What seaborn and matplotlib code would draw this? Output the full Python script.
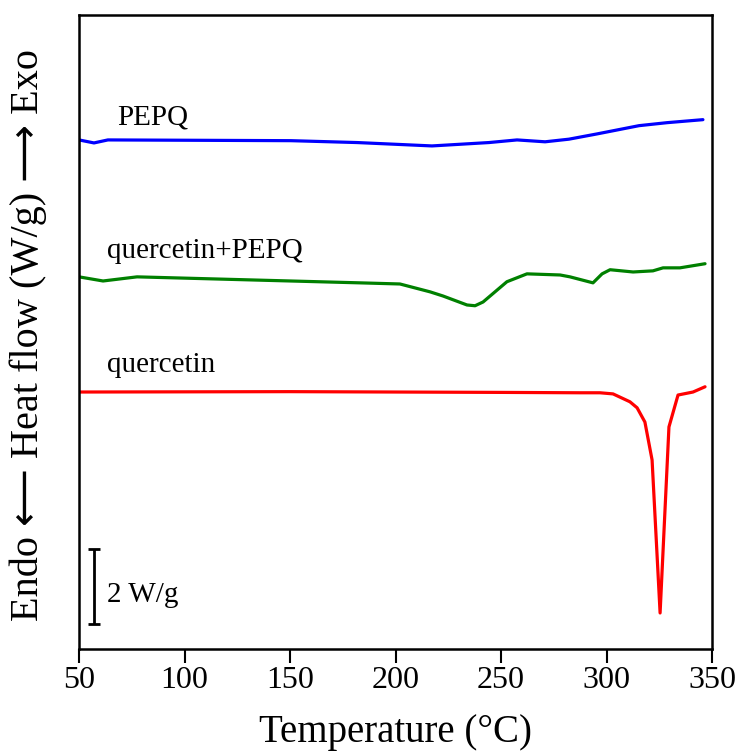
import numpy as np
import pandas as pd
import matplotlib
matplotlib.use("Agg")
import matplotlib.pyplot as plt
import seaborn as sns

# ---- data (Temperature in °C, heat flow in W/g incl. vertical stacking) ----
pepq_T = [50, 57.1, 63.7, 150.5, 181.8, 217.3, 244.3, 257.6, 270.9, 282.2, 295.5, 315.4, 328.7, 345.7]
pepq_H = [13.57, 13.49, 13.57, 13.55, 13.50, 13.41, 13.50, 13.57, 13.52, 13.59, 13.73, 13.95, 14.03, 14.11]

qp_T = [50, 61.4, 77.5, 183.2, 202.1, 216.4, 222.5, 233.9, 237.7, 241.5, 252.8, 262.3, 278.0,
        282.7, 293.6, 297.9, 301.7, 312.6, 322.0, 326.8, 334.8, 346.7]
qp_H = [9.92, 9.81, 9.92, 9.76, 9.73, 9.52, 9.41, 9.17, 9.15, 9.25, 9.79, 10.0, 9.97,
        9.92, 9.76, 10.0, 10.11, 10.05, 10.08, 10.16, 10.16, 10.27]

q_T = [50, 150, 250, 287.4, 296.9, 303.1, 311.1, 314.5, 318.2, 321.6, 325.4, 329.6, 333.9, 341.0, 346.7]
q_H = [6.85, 6.86, 6.84, 6.83, 6.83, 6.80, 6.59, 6.43, 6.05, 5.04, 0.96, 5.92, 6.77, 6.85, 6.99]

series_names = ["PEPQ", "quercetin+PEPQ", "quercetin"]
series_colors = ["#0000ff", "#008000", "#ff0000"]
label_pos = [(68.0, 13.99), (63.3, 10.42), (63.3, 7.39)]

x_ticks = [50, 100, 150, 200, 250, 300, 350]
scale_bar_value = 2  # W/g

# ---- figure ----
sns.set_style("ticks")
plt.rcParams["font.family"] = ["Liberation Serif", "DejaVu Sans"]
plt.rcParams["text.color"] = "black"
plt.rcParams["axes.labelcolor"] = "black"
plt.rcParams["xtick.color"] = "black"
plt.rcParams["ytick.color"] = "black"

fig = plt.figure(figsize=(7.37, 7.55), dpi=100)
ax = fig.add_axes([79 / 737, 1 - 649 / 755, (712 - 79) / 737, (649 - 15) / 755])

frames = []
for name, T, H in zip(series_names, [pepq_T, qp_T, q_T], [pepq_H, qp_H, q_H]):
    frames.append(pd.DataFrame({"T": T, "H": H, "sample": name}))
df = pd.concat(frames, ignore_index=True)

sns.lineplot(data=df, x="T", y="H", hue="sample", palette=dict(zip(series_names, series_colors)),
             sort=False, estimator=None, lw=2.3, legend=False, ax=ax)

for name, (lx, ly) in zip(series_names, label_pos):
    ax.text(lx, ly, name, fontsize=21, ha="left", va="baseline", color="black")

# scale bar
ax.errorbar([57.1], [0.67 + scale_bar_value / 2], yerr=[scale_bar_value / 2], color="black",
            lw=2, capsize=4, capthick=2)
ax.text(63.3, 1.44, f"{scale_bar_value} W/g", fontsize=21, ha="left", va="center", color="black")

ax.set_xlim(50, 350)
ax.set_ylim(0, 16.9)
ax.set_xticks(x_ticks)
ax.set_xticklabels([str(t) for t in x_ticks], fontsize=23, color="black")
ax.set_yticks([])
ax.tick_params(axis="x", direction="out", length=10, width=1.5, pad=2, colors="black")
for s in ax.spines.values():
    s.set_linewidth(1.8)
    s.set_color("black")

ax.set_xlabel("Temperature (°C)", fontsize=28, labelpad=14, color="black")
ax.set_ylabel("Endo \u27f5 Heat flow (W/g) \u27f6 Exo", fontsize=29, color="black")
ax.yaxis.set_label_coords(-0.081, 0.495)
ax.yaxis.label.set_va("center")

fig.savefig("out.png", dpi=100)
